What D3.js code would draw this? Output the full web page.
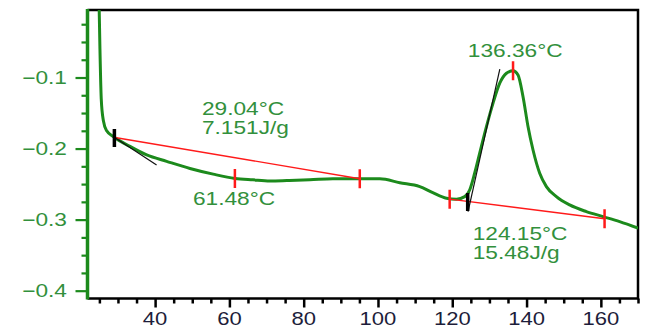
<!DOCTYPE html>
<html>
<head>
<meta charset="utf-8">
<script src="https://cdn.jsdelivr.net/npm/d3@7"></script>
<style>
  body { margin: 0; background: #fff; }
  svg { display: block; }
</style>
</head>
<body>
<svg id="chart" width="649" height="328"></svg>
<script>
// DSC curve, temperature (°C) vs heat flow (W/g)
const temperature = [24.75, 24.95, 25.15, 25.5, 26.05, 26.97, 28.74, 33.23, 37.73, 43.11, 49.38, 55.64,
    61.48, 66.33, 70.90, 75.47, 81.66, 87.85, 95.11, 100.5, 105.87, 111.25, 114.75, 118.44, 121.13,
    123.36, 124.71, 126.06, 127.40, 129.20, 130.98, 132.78, 134.58, 136.36, 137.70, 139.05, 140.39,
    141.74, 143.54, 145.34, 148.03, 151.61, 156.10, 160.57, 165.06, 170];
const heatFlow = [0.03, -0.005, -0.06, -0.13, -0.16, -0.175, -0.183, -0.197, -0.209, -0.218, -0.228, -0.236,
    -0.242, -0.244, -0.2455, -0.245, -0.244, -0.2425, -0.2425, -0.2425, -0.248, -0.2535, -0.262, -0.2698, -0.2712,
    -0.2676, -0.258, -0.234, -0.206, -0.169, -0.136, -0.108, -0.094, -0.0904, -0.0964, -0.127, -0.169,
    -0.202, -0.2347, -0.2535, -0.2676, -0.2793, -0.2887, -0.2957, -0.3028, -0.312];

// analysis overlays
const baselines = [
    [[28.8, -0.184], [95.1, -0.2425]],
    [[119.3, -0.2712], [161.0, -0.2987]]
];
const tangents = [
    [[28.8, -0.1835], [40.4, -0.223]],
    [[124.25, -0.2887], [132.8, -0.0881]]
];
const redMarks = [[61.48, -0.242], [95.1, -0.2425], [119.3, -0.2712], [161.0, -0.2987], [136.36, -0.0904]];
const onsetMarks = [[29.04, -0.1845], [124.15, -0.2744]];

const labels = [
    {t: 52.6, v: -0.1527, lines: ["29.04°C", "7.151J/g"]},
    {t: 50.2, v: -0.2793, lines: ["61.48°C"]},
    {t: 124.2, v: -0.0715, lines: ["136.36°C"]},
    {t: 125.5, v: -0.3285, lines: ["124.15°C", "15.48J/g"]}
];

const xTicks = [40, 60, 80, 100, 120, 140, 160];
const yTicks = [-0.1, -0.2, -0.3, -0.4];

const LEFT = 87.5, RIGHT = 638, TOP = 10, BOTTOM = 298.5;
const GREEN = '#1c8a1c';
const TEXT_GREEN = '#32903c';
const RED = '#ff1a1a';
const FONT = 'Liberation Sans, Arial, sans-serif';
const SX = 1.26;

const svg = d3.select('#chart');

const x = d3.scaleLinear().domain([21.8, 170]).range([LEFT, RIGHT]);
const y = d3.scaleLinear().domain([-0.005, -0.411]).range([TOP, BOTTOM]);

svg.append('defs').append('clipPath').attr('id', 'plot-clip')
    .append('rect')
    .attr('x', LEFT).attr('y', TOP)
    .attr('width', RIGHT - LEFT).attr('height', BOTTOM - TOP);

// frame: top, right, bottom in black
svg.append('path')
    .attr('d', `M${LEFT},${TOP}H${RIGHT}V${BOTTOM}H${LEFT}`)
    .attr('fill', 'none')
    .attr('stroke', '#000')
    .attr('stroke-width', 2.5);

// x axis ticks (minor every 5)
const xAxis = d3.axisBottom(x)
    .tickValues(d3.range(25, 171, 5))
    .tickSize(4)
    .tickFormat('');
const gx = svg.append('g').attr('transform', `translate(0,${BOTTOM})`).call(xAxis);
gx.select('.domain').remove();
gx.selectAll('.tick line')
    .attr('stroke', '#000')
    .attr('stroke-width', 2.5)
    .attr('y2', d => (d % 20 === 0 ? 9 : 5));

xTicks.forEach(t => {
    svg.append('text')
        .text(t)
        .attr('transform', `translate(${x(t)},325) scale(${SX},1)`)
        .attr('text-anchor', 'middle')
        .attr('font-family', FONT)
        .attr('font-size', 17.5)
        .attr('fill', '#1d1d3a');
});

// y axis (green) with minor ticks every 0.025
const yAxis = d3.axisLeft(y)
    .tickValues(d3.range(-0.4, 0, 0.025))
    .tickSize(6)
    .tickFormat('');
const gy = svg.append('g').attr('transform', `translate(${LEFT},0)`).call(yAxis);
gy.select('.domain').remove();
gy.selectAll('.tick line')
    .attr('stroke', GREEN)
    .attr('stroke-width', 2.2)
    .attr('x2', d => (Math.abs(d * 10 - Math.round(d * 10)) < 1e-6 ? -12 : -6));
svg.append('line')
    .attr('x1', LEFT).attr('x2', LEFT)
    .attr('y1', TOP - 1).attr('y2', BOTTOM + 1)
    .attr('stroke', GREEN)
    .attr('stroke-width', 3.5);

const fmt = d3.format('.1f');
yTicks.forEach(v => {
    svg.append('text')
        .text(fmt(v))
        .attr('transform', `translate(67,${y(v) + 6.5}) scale(${SX},1)`)
        .attr('text-anchor', 'end')
        .attr('font-family', FONT)
        .attr('font-size', 18)
        .attr('fill', TEXT_GREEN);
});

const plot = svg.append('g').attr('clip-path', 'url(#plot-clip)');

// DSC curve
const data = temperature.map((t, i) => [t, heatFlow[i]]);
const curve = d3.line()
    .x(d => x(d[0]))
    .y(d => y(d[1]))
    .curve(d3.curveMonotoneX);
plot.append('path')
    .attr('d', curve(data))
    .attr('fill', 'none')
    .attr('stroke', GREEN)
    .attr('stroke-width', 3);

// baselines and tangents
const seg = d3.line().x(d => x(d[0])).y(d => y(d[1]));
baselines.forEach(b => {
    plot.append('path').attr('d', seg(b))
        .attr('fill', 'none').attr('stroke', RED).attr('stroke-width', 1.4);
});
tangents.forEach(b => {
    plot.append('path').attr('d', seg(b))
        .attr('fill', 'none').attr('stroke', '#111').attr('stroke-width', 1.2);
});

// marks
redMarks.forEach(m => {
    plot.append('line')
        .attr('x1', x(m[0])).attr('x2', x(m[0]))
        .attr('y1', y(m[1]) - 9.5).attr('y2', y(m[1]) + 9.5)
        .attr('stroke', RED).attr('stroke-width', 2.5);
});
onsetMarks.forEach(m => {
    plot.append('line')
        .attr('x1', x(m[0])).attr('x2', x(m[0]))
        .attr('y1', y(m[1]) - 8.5).attr('y2', y(m[1]) + 9.5)
        .attr('stroke', '#000').attr('stroke-width', 3.5);
});

// annotation text
labels.forEach(l => {
    l.lines.forEach((s, i) => {
        svg.append('text')
            .text(s)
            .attr('transform', `translate(${x(l.t)},${y(l.v) + i * 19}) scale(${SX},1)`)
            .attr('font-family', FONT)
            .attr('font-size', 18)
            .attr('fill', TEXT_GREEN);
    });
});
</script>
</body>
</html>
